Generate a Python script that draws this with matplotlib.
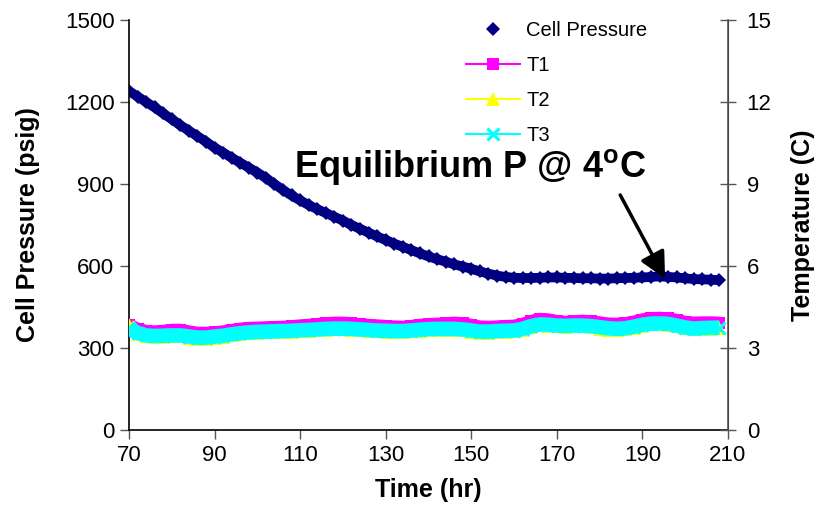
import matplotlib
matplotlib.use('Agg')
import matplotlib.pyplot as plt
import numpy as np

plt.rcParams['font.family'] = ['Liberation Sans', 'DejaVu Sans']
plt.rcParams['mathtext.fontset'] = 'custom'
plt.rcParams['mathtext.rm'] = 'Liberation Sans'
plt.rcParams['mathtext.bf'] = 'Liberation Sans:bold'

# time (hr), every 2 hours
time_hr = list(range(70, 210, 2))

# cell pressure (psig)
cell_pressure = [1240, 1220, 1200, 1180, 1158, 1137, 1115, 1095, 1075, 1055,
                 1033, 1015, 996, 978, 960, 942, 922, 900, 878, 858,
                 840, 823, 808, 794, 780, 766, 750, 736, 722, 708,
                 695, 682, 670, 658, 646, 635, 625, 616, 606, 598,
                 590, 580, 572, 565, 560, 557, 556, 556, 557, 558,
                 558, 557, 556, 555, 555, 554, 554, 555, 556, 557,
                 558, 560, 562, 560, 558, 555, 552, 551, 550, 548]

# temperatures (C)
t1 = [3.85, 3.70, 3.62, 3.60, 3.62, 3.66, 3.66, 3.60, 3.55, 3.55,
      3.57, 3.60, 3.65, 3.70, 3.73, 3.74, 3.75, 3.76, 3.77, 3.79,
      3.82, 3.84, 3.87, 3.90, 3.92, 3.92, 3.90, 3.86, 3.84, 3.82,
      3.80, 3.78, 3.77, 3.80, 3.84, 3.87, 3.88, 3.90, 3.92, 3.90,
      3.84, 3.78, 3.77, 3.78, 3.80, 3.81, 3.88, 3.98, 4.06, 4.04,
      3.98, 3.95, 3.97, 3.99, 3.97, 3.93, 3.89, 3.88, 3.90, 3.96,
      4.04, 4.09, 4.10, 4.08, 4.02, 3.95, 3.92, 3.93, 3.93, 3.92]
t2 = [3.85, 3.52, 3.43, 3.41, 3.42, 3.43, 3.43, 3.37, 3.32, 3.32,
      3.36, 3.42, 3.47, 3.51, 3.54, 3.56, 3.57, 3.58, 3.59, 3.60,
      3.62, 3.63, 3.65, 3.67, 3.68, 3.68, 3.67, 3.65, 3.63, 3.61,
      3.60, 3.59, 3.59, 3.61, 3.64, 3.66, 3.67, 3.67, 3.67, 3.65,
      3.58, 3.55, 3.55, 3.59, 3.60, 3.61, 3.67, 3.77, 3.83, 3.82,
      3.79, 3.78, 3.79, 3.79, 3.77, 3.70, 3.66, 3.65, 3.69, 3.75,
      3.82, 3.86, 3.87, 3.85, 3.79, 3.72, 3.68, 3.70, 3.71, 3.72]
t3 = [3.72, 3.55, 3.46, 3.44, 3.45, 3.46, 3.46, 3.42, 3.38, 3.38,
      3.42, 3.45, 3.50, 3.54, 3.57, 3.59, 3.60, 3.61, 3.62, 3.63,
      3.65, 3.66, 3.68, 3.70, 3.71, 3.71, 3.70, 3.68, 3.66, 3.64,
      3.63, 3.62, 3.62, 3.64, 3.67, 3.69, 3.70, 3.70, 3.70, 3.68,
      3.64, 3.60, 3.60, 3.62, 3.63, 3.64, 3.70, 3.80, 3.86, 3.85,
      3.82, 3.81, 3.82, 3.82, 3.80, 3.76, 3.72, 3.70, 3.72, 3.78,
      3.85, 3.89, 3.90, 3.88, 3.82, 3.75, 3.71, 3.73, 3.74, 3.75]

navy = '#000080'
magenta = '#FF00FF'
yellow = '#FFFF00'
cyan = '#00FFFF'

fig = plt.figure(figsize=(8.27, 5.31), dpi=100)
ax = fig.add_axes([129/827, 1-430/531, 599/827, 410/531])
ax2 = ax.twinx()

# dense logged points overlap into a solid band, so back each series
# with a thick line of its own colour
ax.plot(time_hr, cell_pressure, color=navy, lw=7, solid_capstyle='butt')
p1, = ax.plot(time_hr, cell_pressure, linestyle='none', marker='D',
              markersize=7.5, color=navy, markeredgewidth=0,
              label='Cell Pressure')

handles = [p1]
for vals, col, mk, ms, band, name in [(t1, magenta, 's', 8.5, 9, 'T1'),
                                      (t2, yellow, '^', 9.5, 9, 'T2'),
                                      (t3, cyan, 'x', 8.5, 10.5, 'T3')]:
    ax2.plot(time_hr, vals, color=col, lw=band, solid_capstyle='butt')
    ln, = ax2.plot(time_hr, vals, color=col, marker=mk, markersize=ms,
                   markeredgewidth=2.2 if mk == 'x' else 0, lw=1.5,
                   label=name)
    handles.append(ln)

ax.set_xlim(70, 210)
ax.set_ylim(0, 1500)
ax2.set_ylim(0, 15)
ax.set_xticks(range(70, 211, 20))
ax.set_yticks(range(0, 1501, 300))
ax2.set_yticks(range(0, 16, 3))

ax.spines['top'].set_visible(False)
ax2.spines['top'].set_visible(False)
ax2.spines['left'].set_visible(False)
ax2.spines['bottom'].set_visible(False)
ax2.spines['right'].set_color('#555555')
for s in ['left', 'bottom']:
    ax.spines[s].set_linewidth(1.2)
ax2.spines['right'].set_linewidth(1.2)

ax.tick_params(axis='both', direction='out', length=6.5, width=1,
               labelsize=16, pad=4, color='#555555')
ax2.tick_params(axis='y', direction='inout', length=11, width=1,
                labelsize=16, pad=8, color='#555555')

ax.set_xlabel('Time (hr)', fontsize=18, fontweight='bold')
ax.set_ylabel('Cell Pressure (psig)', fontsize=18, fontweight='bold')
ax2.set_ylabel('Temperature (C)', fontsize=18, fontweight='bold')
ax.xaxis.set_label_coords(0.5, -0.118)
ax.yaxis.set_label_coords(-0.148, 0.5)
ax2.yaxis.set_label_coords(1.105, 0.5)

ax.annotate('', xy=(195.3, 554), xytext=(184.8, 860),
            arrowprops=dict(arrowstyle='-|>', lw=2.5, color='black',
                            mutation_scale=40, shrinkA=0, shrinkB=0))
ax.text(108.6, 926, r'Equilibrium P @ 4$^{\mathbf{o}}$C', fontsize=26,
        fontweight='bold', ha='left', va='baseline')

fig.legend(handles=handles, loc='upper left',
           bbox_to_anchor=(466/827, 1-21/531), frameon=False, fontsize=14.5,
           handlelength=2.7, handletextpad=0.3, labelspacing=0.8,
           borderpad=0, borderaxespad=0, numpoints=1)

fig.savefig('out.png', dpi=100)
